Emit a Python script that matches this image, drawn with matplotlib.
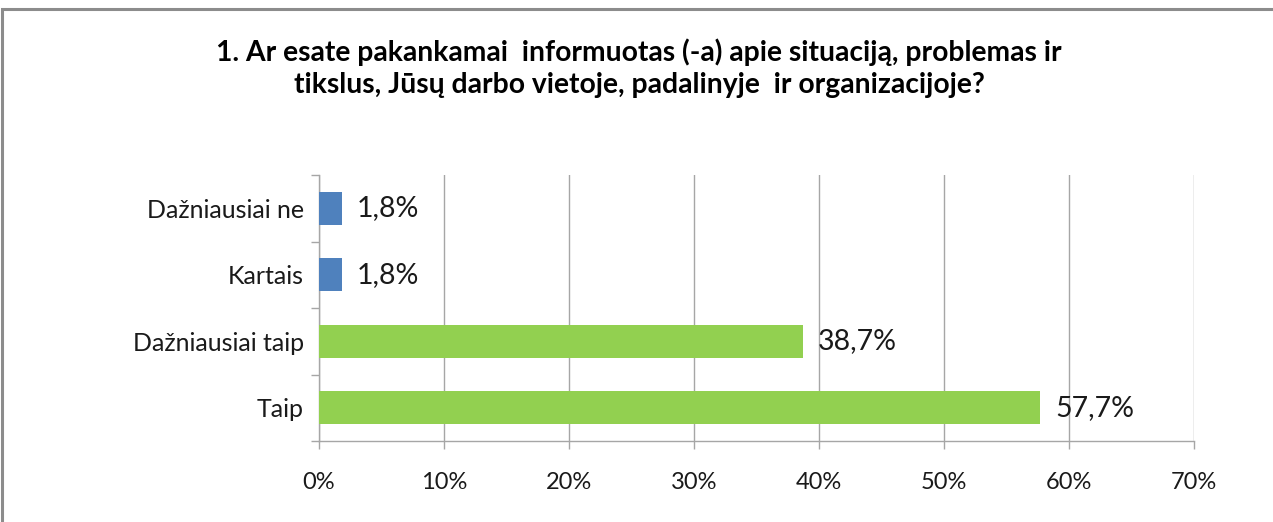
import matplotlib.pyplot as plt
import numpy as np
from matplotlib.patches import Rectangle
from matplotlib.ticker import FuncFormatter

# duomenys
categories = ['Taip', 'Dažniausiai taip', 'Kartais', 'Dažniausiai ne']
values = [57.7, 38.7, 1.8, 1.8]
bar_colors = ['#92D050', '#92D050', '#4F81BD', '#4F81BD']
x_ticks = [0, 10, 20, 30, 40, 50, 60, 70]

title = ('1. Ar esate pakankamai  informuotas (-a) apie situaciją, problemas ir\n'
         'tikslus, Jūsų darbo vietoje, padalinyje  ir organizacijoje?')

plt.rcParams['font.family'] = ['Lato', 'DejaVu Sans']

fig = plt.figure(figsize=(12.73, 5.22), dpi=100)
fig.patch.set_facecolor('white')

# chart frame (only left and top edges visible in the crop)
fig.patches.append(Rectangle((2 / 1273, -0.1), 1.2, (1 - 9 / 522) + 0.1,
                             transform=fig.transFigure, fill=False,
                             edgecolor='#8c8c8c', linewidth=2.2))

ax = fig.add_axes([319 / 1273, 1 - 441 / 522, (1194 - 319) / 1273, (441 - 175) / 522])

y = np.arange(len(categories))
ax.barh(y, values, height=0.5, color=bar_colors, zorder=3)

for yi, v in zip(y, values):
    ax.text(v + 1.2, yi, f'{v:.1f}%'.replace('.', ','), va='center', ha='left',
            fontsize=20.5, color='#1a1a1a', zorder=4)

ax.set_xlim(0, 70)
ax.set_ylim(-0.5, len(categories) - 0.5)
ax.set_xticks(x_ticks)
ax.xaxis.set_major_formatter(FuncFormatter(lambda v, p: f'{int(v)}%'))
ax.set_yticks(y)
ax.set_yticklabels(categories)
ax.set_yticks(np.arange(-0.5, len(categories)), minor=True)

ax.grid(axis='x', color='#a6a6a6', linewidth=1.0, zorder=0)
for s in ['top', 'right']:
    ax.spines[s].set_visible(False)
for s in ['left', 'bottom']:
    ax.spines[s].set_color('#a6a6a6')
    ax.spines[s].set_linewidth(1.0)

ax.tick_params(axis='x', length=6, width=1.0, color='#a6a6a6', labelsize=17,
               labelcolor='#1a1a1a', pad=16)
ax.tick_params(axis='y', which='major', length=0, labelsize=18, labelcolor='#1a1a1a', pad=11)
ax.tick_params(axis='y', which='minor', length=6, width=1.0, color='#a6a6a6')

fig.text(0.502, 1 - 68 / 522, title, ha='center', va='center', fontsize=20.3,
         fontweight='bold', linespacing=1.3, color='black')

fig.savefig('out.png', dpi=100)
